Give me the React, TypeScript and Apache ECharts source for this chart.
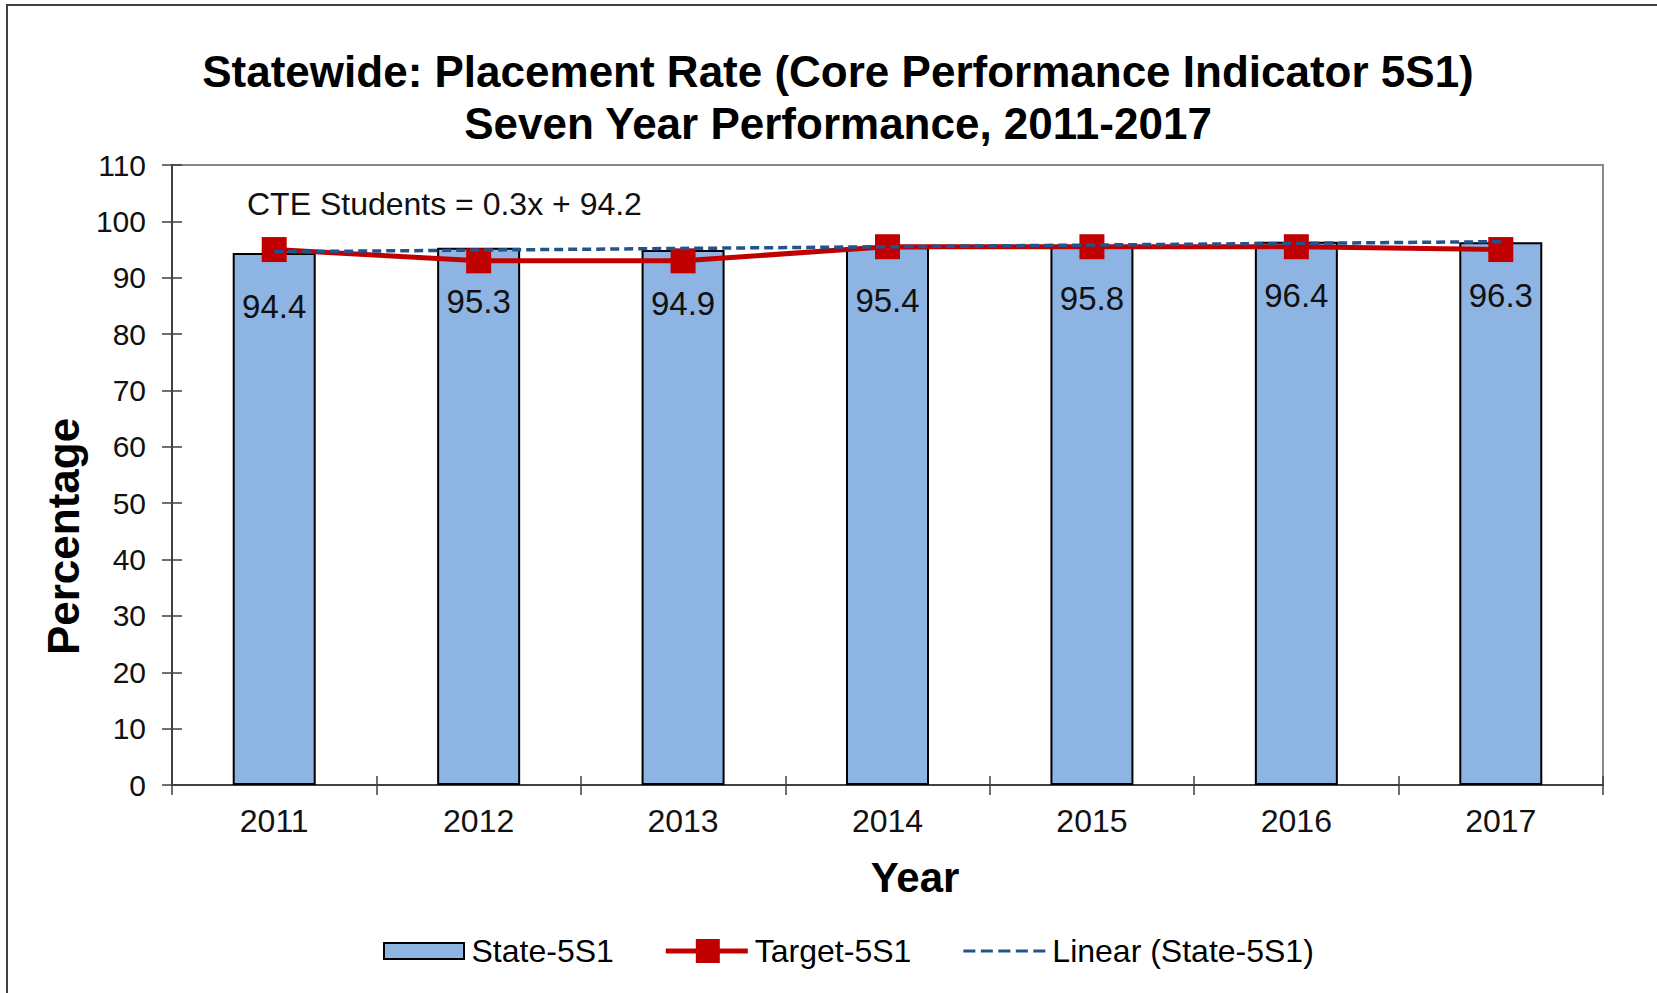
import React, { useEffect, useRef } from "react";
import * as echarts from "echarts";

const years = ["2011", "2012", "2013", "2014", "2015", "2016", "2017"];
const stateValues = [94.4, 95.3, 94.9, 95.4, 95.8, 96.4, 96.3];
const targetValues = [95.0, 93.0, 93.0, 95.5, 95.5, 95.5, 95.0];
// Excel linear trendline of State-5S1, read at its two ends
const trendYears = ["2011", "2017"];
const trendValues = [94.6, 96.4];
const yTicks = { min: 0, max: 110, interval: 10 };
const trendLabel = "CTE Students = 0.3x + 94.2";

const FONT = "'Liberation Sans', Arial, sans-serif";

const ICON_STATE = "path://M0,0L0.01,0M0,24L0.01,24M1,4H81V20H1Z";
const ICON_TARGET = "path://M0,9.5H30V0H54V9.5H82V14.5H54V24H30V14.5H0Z";
const ICON_TREND =
  "path://M0,0L0.01,0M0,24L0.01,24M0,10.5H12V13.5H0ZM17.5,10.5H29.5V13.5H17.5ZM35,10.5H47V13.5H35ZM52.5,10.5H64.5V13.5H52.5ZM70,10.5H82V13.5H70Z";

export default function App() {
  const ref = useRef<HTMLDivElement>(null);
  useEffect(() => {
    if (!ref.current) return;
    const chart = echarts.init(ref.current, null, { renderer: "svg" });
    const axisColor = "#404040";
    chart.setOption({
      animation: false,
      backgroundColor: "#fff",
      title: {
        text: "Statewide: Placement Rate (Core Performance Indicator 5S1)\nSeven Year Performance, 2011-2017",
        left: 838,
        textAlign: "center",
        top: 45,
        padding: 0,
        textStyle: { fontSize: 44, fontWeight: "bold", lineHeight: 52, color: "#000", fontFamily: FONT },
      },
      grid: {
        left: 172,
        top: 165,
        width: 1431,
        height: 620,
        show: true,
        borderColor: "#888",
        borderWidth: 2,
        backgroundColor: "transparent",
      },
      legend: {
        left: 377,
        top: 930,
        itemWidth: 82,
        itemHeight: 24,
        itemGap: 52,
        textStyle: { fontSize: 32, color: "#000", fontFamily: FONT, padding: [0, 0, 0, 2] },
        data: [
          { name: "State-5S1", icon: ICON_STATE, itemStyle: { color: "#8EB4E3", borderColor: "#000", borderWidth: 2 } },
          { name: "Target-5S1", icon: ICON_TARGET, itemStyle: { color: "#C00000", borderWidth: 0 } },
          { name: "Linear (State-5S1)", icon: ICON_TREND, itemStyle: { color: "#24528C", borderWidth: 0 } },
        ],
      },
      xAxis: [
        {
          type: "category",
          data: years,
          position: "bottom",
          boundaryGap: true,
          name: "Year",
          nameLocation: "middle",
          nameGap: 71,
          nameTextStyle: { fontSize: 42, fontWeight: "bold", color: "#000", fontFamily: FONT, padding: [0, 0, 0, 55] },
          axisLine: { lineStyle: { color: axisColor, width: 2 } },
          axisTick: { show: true, interval: 0, length: 10, lineStyle: { color: axisColor, width: 1.5 } },
          axisLabel: { interval: 0, margin: 20, fontSize: 32, color: "#111", fontFamily: FONT },
        },
        {
          type: "category",
          data: years,
          position: "bottom",
          boundaryGap: true,
          axisLine: { show: false },
          axisTick: { show: true, inside: true, interval: 0, length: 9, lineStyle: { color: axisColor, width: 1.5 } },
          axisLabel: { show: false },
        },
      ],
      yAxis: [
        {
          type: "value",
          position: "left",
          min: yTicks.min,
          max: yTicks.max,
          interval: yTicks.interval,
          name: "Percentage",
          nameLocation: "middle",
          nameGap: 76,
          nameTextStyle: { fontSize: 44, fontWeight: "bold", color: "#000", fontFamily: FONT, padding: [0, 123, 0, 0] },
          axisLine: { show: true, lineStyle: { color: axisColor, width: 2 } },
          axisTick: { show: true, length: 10, lineStyle: { color: axisColor, width: 1.5 } },
          axisLabel: { margin: 26, fontSize: 30, color: "#111", fontFamily: FONT },
          splitLine: { show: false },
        },
        {
          type: "value",
          position: "left",
          min: yTicks.min,
          max: yTicks.max,
          interval: yTicks.interval,
          axisLine: { show: false },
          axisTick: { show: true, inside: true, length: 10, lineStyle: { color: axisColor, width: 1.5 } },
          axisLabel: { show: false },
          splitLine: { show: false },
        },
      ],
      series: [
        {
          name: "State-5S1",
          type: "bar",
          data: stateValues,
          barWidth: 83,
          z: 2,
          itemStyle: { color: "#8EB4E3", borderColor: "#000", borderWidth: 2 },
          label: {
            show: true,
            position: "insideTop",
            distance: 37,
            fontSize: 33,
            color: "#111",
            fontFamily: FONT,
            formatter: (p: any) => Number(p.value).toFixed(1),
          },
        },
        {
          name: "Target-5S1",
          type: "line",
          data: targetValues,
          z: 3,
          symbol: "rect",
          symbolSize: 25,
          itemStyle: { color: "#C00000" },
          lineStyle: { color: "#C00000", width: 5 },
        },
        {
          name: "Linear (State-5S1)",
          type: "line",
          data: trendYears.map((y, i) => [y, trendValues[i]]),
          z: 4,
          symbol: "none",
          itemStyle: { color: "#24528C" },
          lineStyle: { color: "#24528C", width: 3.5, type: [9, 5] },
        },
      ],
      graphic: [
        {
          type: "rect",
          shape: { x: 7, y: 5, width: 1720, height: 1100 },
          style: { fill: "none", stroke: "#404040", lineWidth: 2 },
          silent: true,
        },
        {
          type: "text",
          x: 247,
          y: 204,
          style: { text: trendLabel, fontSize: 32, fill: "#111", fontFamily: FONT, verticalAlign: "middle" },
          z: 10,
        },
      ],
    });
    return () => chart.dispose();
  }, []);
  return <div ref={ref} style={{ position: "fixed", left: 0, top: 0, width: 1657, height: 993 }} />;
}
